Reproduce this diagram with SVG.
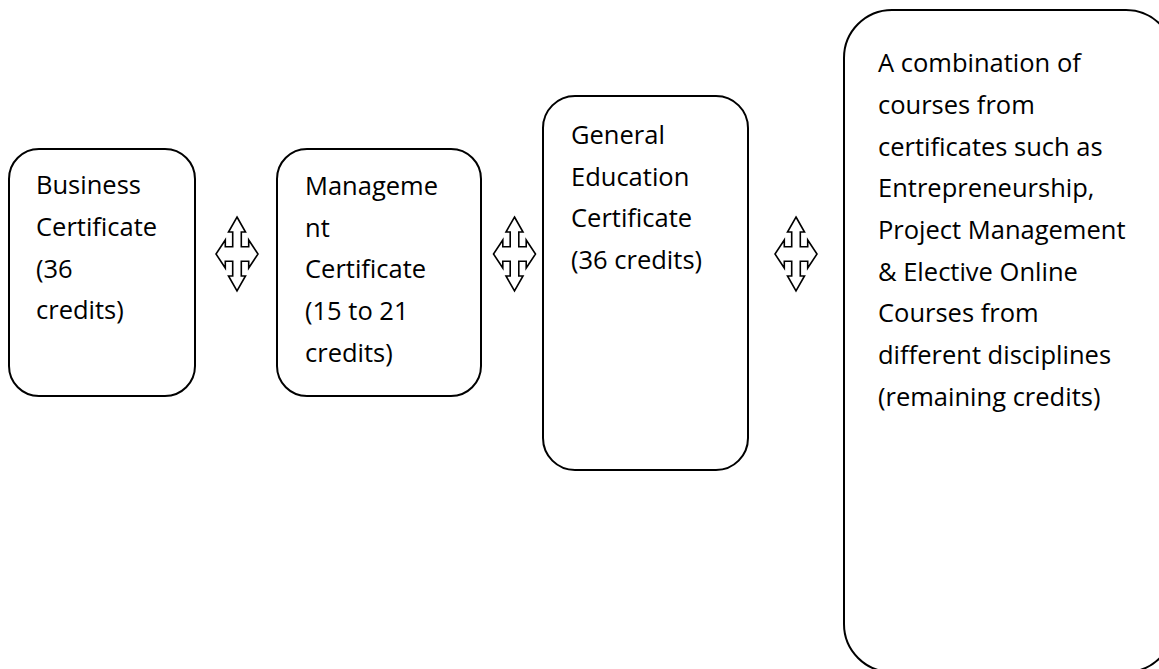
<svg xmlns="http://www.w3.org/2000/svg" width="1159" height="669" viewBox="0 0 1159 669">
  <defs>
    <style>
      .box { fill: #ffffff; stroke: #000000; stroke-width: 2; }
      .arrow { fill: #ffffff; stroke: #000000; stroke-width: 1.6; stroke-linejoin: miter; }
      .label { font-family: "Open Sans", "Noto Sans", sans-serif; font-size: 25.5px; fill: #000000; }
    </style>
    <!-- four-way arrow, centred on the origin -->
    <path id="quad-arrow" d="M0,-37 L8.5,-22 L4.3,-22 L4.3,-7.3 L11.7,-7.3 L11.7,-14 L21,0 L11.7,14 L11.7,7.3 L4.3,7.3 L4.3,22 L8.5,22 L0,37 L-8.5,22 L-4.3,22 L-4.3,7.3 L-11.7,7.3 L-11.7,14 L-21,0 L-11.7,-14 L-11.7,-7.3 L-4.3,-7.3 L-4.3,-22 L-8.5,-22 Z"/>
  </defs>

  <rect width="1159" height="669" fill="#ffffff"/>

  <g id="business">
    <rect class="box" x="9" y="149" width="186" height="247" rx="30" ry="30"/>
    <text class="label" x="36">
      <tspan x="36" y="194">Business</tspan>
      <tspan x="36" y="236">Certificate</tspan>
      <tspan x="36" y="278">(36</tspan>
      <tspan x="36" y="319">credits)</tspan>
    </text>
  </g>

  <g id="management">
    <rect class="box" x="277" y="149" width="204" height="247" rx="30" ry="30"/>
    <text class="label">
      <tspan x="305" y="195">Manageme</tspan>
      <tspan x="305" y="237">nt</tspan>
      <tspan x="305" y="278">Certificate</tspan>
      <tspan x="305" y="320">(15 to 21</tspan>
      <tspan x="305" y="362">credits)</tspan>
    </text>
  </g>

  <g id="general-education">
    <rect class="box" x="543" y="96" width="205" height="374" rx="32" ry="32"/>
    <text class="label">
      <tspan x="571" y="144">General</tspan>
      <tspan x="571" y="186">Education</tspan>
      <tspan x="571" y="227">Certificate</tspan>
      <tspan x="571" y="269">(36 credits)</tspan>
    </text>
  </g>

  <g id="electives">
    <rect class="box" x="844" y="10" width="330" height="662" rx="48" ry="48"/>
    <text class="label">
      <tspan x="878" y="72">A combination of</tspan>
      <tspan x="878" y="114">courses from</tspan>
      <tspan x="878" y="156">certificates such as</tspan>
      <tspan x="878" y="197">Entrepreneurship,</tspan>
      <tspan x="878" y="239">Project Management</tspan>
      <tspan x="878" y="281">&amp; Elective Online</tspan>
      <tspan x="878" y="322">Courses from</tspan>
      <tspan x="878" y="364">different disciplines</tspan>
      <tspan x="878" y="406">(remaining credits)</tspan>
    </text>
  </g>

  <g id="connectors">
    <use href="#quad-arrow" class="arrow" transform="translate(237 254)"/>
    <use href="#quad-arrow" class="arrow" transform="translate(514.5 254)"/>
    <use href="#quad-arrow" class="arrow" transform="translate(796 254)"/>
  </g>
</svg>
